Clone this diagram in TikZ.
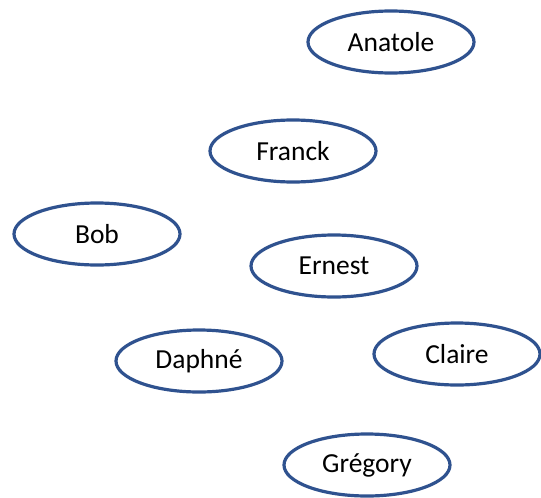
\documentclass[tikz,border=0pt]{standalone}
\usepackage{fontspec}
\setmainfont{Carlito}
\usetikzlibrary{shapes.geometric}
\definecolor{edgeblue}{RGB}{47,82,143}
\begin{document}
\begin{tikzpicture}[x=1pt,y=-1pt,
  person/.style={ellipse,draw=edgeblue,line width=3.2pt,fill=white,
    minimum width=166pt,minimum height=62pt,inner sep=0pt,
    font=\fontsize{27.5}{32}\selectfont}]
\useasboundingbox (0,0) rectangle (541,498);
\node[person] (anatole) at (391,42) {Anatole};
\node[person] (franck) at (293,151) {Franck};
\node[person] (bob) at (97,234) {Bob};
\node[person] (ernest) at (334,266) {Ernest};
\node[person] (daphne) at (199,361) {Daphné};
\node[person] (claire) at (457,354) {Claire};
\node[person] (gregory) at (367,465) {Grégory};
\end{tikzpicture}
\end{document}
